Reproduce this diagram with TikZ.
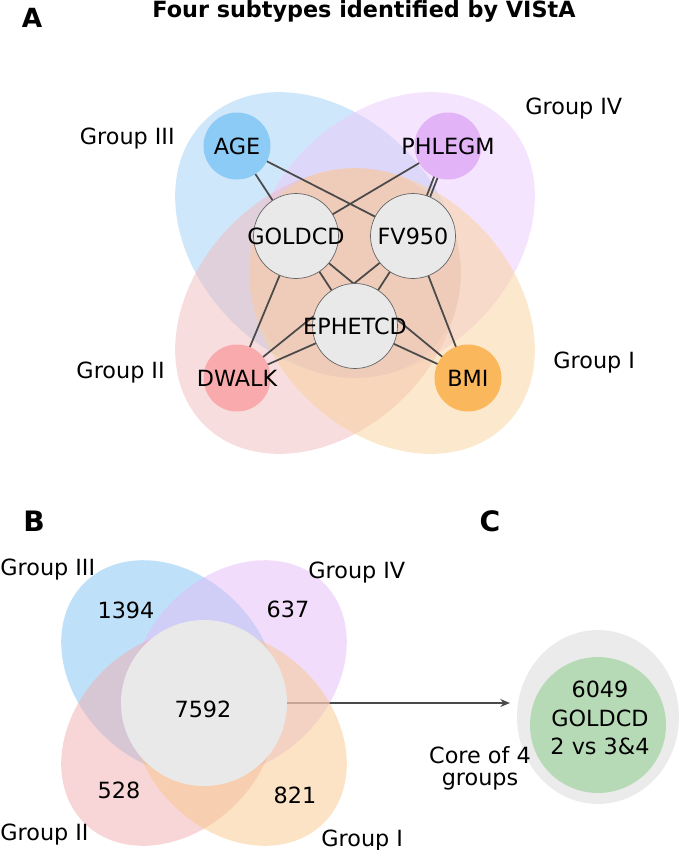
\documentclass[tikz,border=0pt]{standalone}
\usepackage{xcolor}
\usepackage{fontspec}
\usepackage{tikz}
\usetikzlibrary{shapes.geometric,arrows.meta}
\setmainfont{DejaVu Sans}

\definecolor{bluepA}{RGB}{160,207,245}
\definecolor{purplepA}{RGB}{235,201,251}
\definecolor{pinkpA}{RGB}{241,187,189}
\definecolor{orangepA}{RGB}{249,209,153}
\definecolor{bluepB}{RGB}{125,193,243}
\definecolor{purplepB}{RGB}{227,187,247}
\definecolor{pinkpB}{RGB}{241,173,175}
\definecolor{orangepB}{RGB}{249,199,139}
\definecolor{agecol}{RGB}{141,203,247}
\definecolor{phlegmcol}{RGB}{226,180,247}
\definecolor{dwalkcol}{RGB}{249,170,172}
\definecolor{bmicol}{RGB}{251,183,92}
\definecolor{coregrey}{RGB}{233,233,233}
\definecolor{ringline}{RGB}{100,100,100}
\definecolor{linkcol}{RGB}{74,74,74}
\definecolor{blobgrey}{RGB}{235,235,235}
\definecolor{goldgreen}{RGB}{183,218,182}

\pgfdeclarelayer{under}
\pgfdeclarelayer{petals}
\pgfdeclarelayer{links}
\pgfsetlayers{under,petals,links,main}

\newcommand{\narrowtext}[1]{\makebox[0pt]{#1}}

\tikzset{
  lbl/.style={inner sep=0pt, font=\fontsize{12.7}{15}\selectfont},
  panel/.style={inner sep=0pt, anchor=base, font=\fontsize{16}{18}\selectfont\bfseries},
  varnode/.style={circle, inner sep=0pt, minimum size=1.34cm, lbl},
  corenode/.style={circle, inner sep=0pt, minimum size=1.70cm, fill=coregrey, draw=ringline, line width=0.4pt, lbl},
  link/.style={draw=linkcol, line width=1pt},
  petal/.style={fill opacity=0.5}
}

\begin{document}
\begin{tikzpicture}[x=0.02cm, y=0.02cm]
             \useasboundingbox (0, 0) rectangle (684, -850);

             % A
             \node[panel, font=\fontsize{15}{18}\selectfont\bfseries] (labA) at (32, -27) {A};
             \node[inner sep=0pt, anchor=base, font=\fontsize{12.7}{15}\selectfont\bfseries] (title) at (364, -17) {Four subtypes identified by VIStA};

             \begin{pgfonlayer}{petals}
             \fill[bluepA, petal, rotate around={-45:(318, -235)}] (318, -235) ellipse [x radius=161, y radius=122];
             \fill[purplepA, petal, rotate around={45:(392, -235)}] (392, -235) ellipse [x radius=161, y radius=122];
             \fill[pinkpA, petal, rotate around={45:(318, -311)}] (318, -311) ellipse [x radius=161, y radius=122];
             \fill[orangepA, petal, rotate around={-45:(392, -311)}] (392, -311) ellipse [x radius=161, y radius=122];
             \end{pgfonlayer}

             \node[lbl, anchor=base east] (g3a) at (175, -144) {Group III};
             \node[lbl, anchor=base west] (g4a) at (525, -114) {Group IV};
             \node[lbl, anchor=base east] (g2a) at (165, -378) {Group II};
             \node[lbl, anchor=base west] (g1a) at (553, -368) {Group I};

             \node[varnode, fill=agecol] (age) at (237, -146) {\narrowtext{AGE}};
             \node[varnode, fill=phlegmcol] (phlegm) at (448, -146) {\narrowtext{PHLEGM}};
             \node[corenode] (goldcd) at (296, -236) {\narrowtext{GOLDCD}};
             \node[corenode] (fv950) at (413, -236) {\narrowtext{FV950}};
             \node[corenode] (ephetcd) at (355, -326) {\narrowtext{EPHETCD}};
             \node[varnode, fill=dwalkcol] (dwalk) at (237, -378) {\narrowtext{DWALK}};
             \node[varnode, fill=bmicol] (bmi) at (468, -378) {\narrowtext{BMI}};

             \begin{pgfonlayer}{links}
             \draw[link] (age.center) -- (goldcd.center);
             \draw[link] (age.center) -- (fv950.center);
             \draw[link] (phlegm.center) -- (goldcd.center);
             \draw[link] ([xshift=-1.1pt]phlegm.center) -- ([xshift=-1.1pt]fv950.center);
             \draw[link] ([xshift=1.1pt]phlegm.center) -- ([xshift=1.1pt]fv950.center);
             \draw[link] (goldcd.center) -- (ephetcd.center);
             \draw[link] (fv950.center) -- (ephetcd.center);
             \draw[link] (goldcd.center) -- (dwalk.center);
             \draw[link] (fv950.center) -- (bmi.center);
             \draw[link] (goldcd.center) -- (bmi.center);
             \draw[link] (fv950.center) -- (dwalk.center);
             \draw[link] (ephetcd.center) -- (dwalk.center);
             \draw[link] (ephetcd.center) -- (bmi.center);
             \end{pgfonlayer}

             % B
             \node[panel] (labB) at (34, -531) {B};

             \begin{pgfonlayer}{petals}
             \fill[bluepB, petal, rotate around={-45:(169, -668)}] (169, -668) ellipse [x radius=120, y radius=94];
             \fill[purplepB, petal, rotate around={45:(239, -668)}] (239, -668) ellipse [x radius=120, y radius=94];
             \fill[pinkpB, petal, rotate around={45:(169, -738)}] (169, -738) ellipse [x radius=120, y radius=94];
             \fill[orangepB, petal, rotate around={-45:(239, -738)}] (239, -738) ellipse [x radius=120, y radius=94];
             \end{pgfonlayer}

             \node[lbl, anchor=base west] (g3b) at (0, -575) {Group III};
             \node[lbl, anchor=base west] (g4b) at (308, -578) {Group IV};
             \node[lbl, anchor=base west] (g2b) at (0, -840) {Group II};
             \node[lbl, anchor=base west] (g1b) at (321, -846) {Group I};

             \node[circle, fill=coregrey, inner sep=0pt, minimum size=3.32cm] (core) at (204, -703) {};
             \node[lbl, anchor=base] (n7592) at (203, -717) {7592};
             \node[lbl, anchor=base] (n1394) at (126, -618) {1394};
             \node[lbl, anchor=base] (n637) at (288, -617) {637};
             \node[lbl, anchor=base] (n528) at (119, -798) {528};
             \node[lbl, anchor=base] (n821) at (295, -803) {821};

             % C
             \node[panel] (labC) at (490, -531) {C};
             \node[ellipse, fill=blobgrey, inner sep=0pt, minimum width=3.24cm, minimum height=3.48cm] (blob) at (598, -717) {};
             \node[circle, fill=goldgreen, inner sep=0pt, minimum size=2.72cm] (gold) at (598, -725) {};
             \node[lbl, align=center, font=\fontsize{12.7}{16.2}\selectfont] (goldtxt) at (600, -718) {6049\\GOLDCD\\2 vs 3\&4};
             \node[lbl, align=center, font=\fontsize{12.7}{12.5}\selectfont] (coretxt) at (480, -768) {Core of 4\\groups};

             \coordinate (tipc) at (510, -703);
             \begin{pgfonlayer}{under}
             \draw[draw=linkcol, line width=0.9pt, -{Stealth[length=5.5pt, width=4.5pt]}] (core.east) -- (tipc);
             \end{pgfonlayer}

\end{tikzpicture}
\end{document}
